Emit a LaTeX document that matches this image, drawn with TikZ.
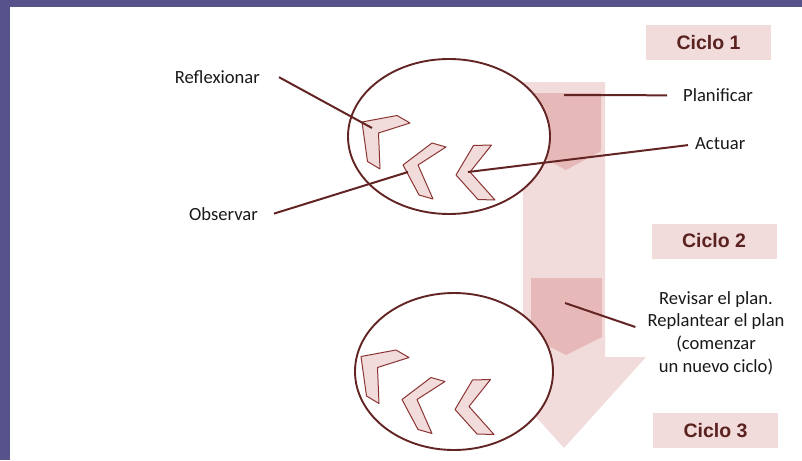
\documentclass[tikz,border=0pt]{standalone}
\usepackage{fontspec}
\setmainfont{Carlito}
\newfontfamily\ciclofont{Liberation Sans}
\definecolor{lightpink}{HTML}{F2DCDB}
\definecolor{midpink}{HTML}{E6B9B8}
\definecolor{darkred}{HTML}{632523}
\definecolor{chevline}{HTML}{8A3533}
\definecolor{border}{HTML}{56528A}
\tikzset{
  lbl/.style={inner sep=0pt, font=\fontsize{18.6}{22.7}\selectfont, text=black!90},
  ciclo/.style={fill=lightpink, minimum width=125pt, minimum height=35pt, inner sep=0pt,
     font=\ciclofont\bfseries\fontsize{19.5}{22}\selectfont, text=darkred!90!black},
  conn/.style={draw=darkred, line width=2pt},
  ring/.style={draw=darkred, line width=1.9pt, fill=white},
  chev/.style={draw=chevline, line width=1pt, fill=lightpink, line join=round},
}
\begin{document}
\begin{tikzpicture}[x=1pt,y=-1pt]
\useasboundingbox (0,0) rectangle (802,460);
% frame
\fill[border] (0,0) rectangle (802,7);
\fill[border] (0,0) rectangle (10,460);
% big arrow
\fill[lightpink] (523,82) -- (605,82) -- (605,357) -- (646,357) -- (564,448) -- (482,357) -- (523,357) -- cycle;
% pentagons
\fill[midpink] (531,93) -- (601,93) -- (601,151) -- (566,170) -- (531,151) -- cycle;
\fill[midpink] (531,278) -- (602,278) -- (602,337) -- (566,355) -- (531,337) -- cycle;
% ellipses
\draw[ring] (449,136.5) ellipse [x radius=101, y radius=77.5];
\draw[ring] (454,371.5) ellipse [x radius=99, y radius=78.5];
% chevrons
\foreach \dy/\dx in {0/0, 234.5/-1}{
  \begin{scope}[shift={(\dx,\dy)}]
    \draw[chev] (362,122) -- (397,115.5) -- (410,123) -- (378.5,133) -- (380,169) -- (367.5,161.5) -- cycle;
    \draw[chev] (403,165) -- (432,143) -- (446,147) -- (418,165) -- (433,199) -- (419,195) -- cycle;
    \draw[chev] (456,175) -- (473.5,145.5) -- (491.5,145) -- (470,172) -- (495,200) -- (478,199.5) -- cycle;
  \end{scope}
}
% ciclo boxes
\node[ciclo] (c1) at (708.5,42.5) {Ciclo 1};
\node[ciclo] (c2) at (714,241) {Ciclo 2};
\node[ciclo] (c3) at (715.5,430.5) {Ciclo 3};
% labels
\node[lbl, anchor=base east] (refl) at (260,83.5) {Reflexionar};
\node[lbl, anchor=base east] (obs) at (258,220) {Observar};
\node[lbl, anchor=base west] (plan) at (683,101.7) {Planificar};
\node[lbl, anchor=base west] (act) at (695,149) {Actuar};
\node[lbl, align=center] (rev) at (716,333) {Revisar el plan.\\Replantear el plan\\(comenzar\\un nuevo ciclo)};
% connector end points
\coordinate (pA) at (372,128);
\coordinate (pB) at (408,172);
\coordinate (pC) at (468,172);
\coordinate (pP1) at (564,95);
\coordinate (pP2) at (565,303);
% connectors
\draw[conn] ([xshift=19pt]refl.east) -- (pA);
\draw[conn] ([xshift=16pt]obs.east) -- (pB);
\draw[conn] ([xshift=-16pt]plan.west) -- (pP1);
\draw[conn] ([xshift=-7pt,yshift=-2pt]act.west) -- (pC);
\draw[conn] ([xshift=-12pt,yshift=6pt]rev.west) -- (pP2);
\end{tikzpicture}
\end{document}
